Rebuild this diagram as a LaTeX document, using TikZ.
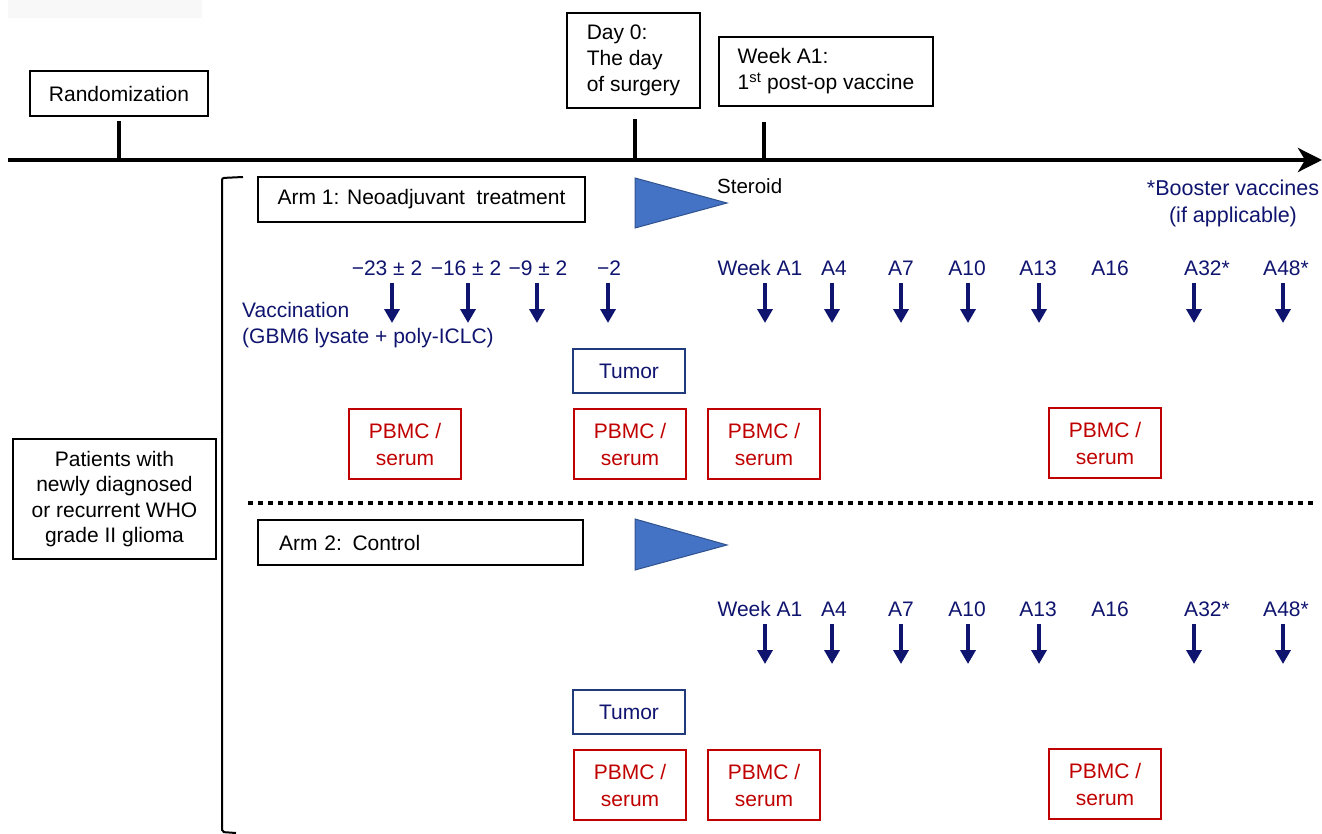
\documentclass[tikz,border=0pt]{standalone}
\usepackage{fontspec}
\setmainfont{Liberation Sans}
\usetikzlibrary{arrows.meta}
\definecolor{navytxt}{HTML}{0F146E}
\definecolor{tumorblue}{HTML}{1F3B7B}
\definecolor{pbmcred}{HTML}{C00000}
\definecolor{trifill}{HTML}{4472C4}
\definecolor{triedge}{HTML}{2F528F}
\definecolor{faint}{HTML}{F8F8F8}
\tikzset{
  blackbox/.style={draw=black, line width=2pt, inner sep=0pt, align=center, font=\fontsize{21}{26}\selectfont},
  tumorbox/.style={draw=tumorblue, line width=2.5pt, inner sep=0pt, minimum width=112pt, minimum height=44pt, text=navytxt, font=\fontsize{21}{26}\selectfont},
  pbmcbox/.style={draw=pbmcred, line width=2.5pt, inner sep=0pt, minimum width=112pt, minimum height=70pt, text=pbmcred, align=center, font=\fontsize{21}{27}\selectfont},
  lab/.style={text=navytxt, inner sep=0pt, font=\fontsize{21}{26}\selectfont},
  varrow/.style={draw=navytxt, line width=3.8pt, -{Triangle[length=14pt,width=15pt]}},
  tick/.style={line width=4pt},
  steroid/.style={fill=trifill, draw=triedge, line width=1pt},
}
\begin{document}
\begin{tikzpicture}[x=1pt,y=-1pt]
\useasboundingbox (0,0) rectangle (1322,834);
\fill[faint] (8,0) rectangle (202,18);

% timeline
\coordinate (tlstart) at (8,160);
\coordinate (tlend) at (1322,160);
\draw[line width=4.5pt, -{Stealth[length=24pt,width=24pt,inset=7pt]}] (tlstart) -- (tlend);

% top boxes
\node[blackbox, minimum width=178pt, minimum height=45pt] (rand) at (119,93.5) {Randomization};
\node[blackbox, minimum width=133pt, minimum height=95pt, align=left] (day0) at (633.5,60.5) {Day 0:\\The day\\of surgery};
\node[blackbox, minimum width=214pt, minimum height=69pt, align=left] (weekA1) at (826,71.5) {Week A1:\\1\textsuperscript{st} post-op vaccine};

\draw[tick] ([yshift=-4pt]rand.south) -- (rand.south |- tlstart);
\draw[tick] ([xshift=1.5pt,yshift=-10pt]day0.south) -- ([xshift=1.5pt]day0.south |- tlstart);
\draw[tick] ([xshift=-62pt,yshift=-15pt]weekA1.south) -- ([xshift=-62pt]weekA1.south |- tlstart);

% bracket
\draw[line width=2pt, rounded corners=2pt] (243,177) -- (222,178) -- (222,832) -- (236,833);

% patients
\node[blackbox, minimum width=203pt, minimum height=120pt, font=\fontsize{21}{25.5}\selectfont] (pat) at (114.5,499) {Patients with\\newly diagnosed\\or recurrent WHO\\grade II glioma};

% ===== Arm 1 =====
\node[blackbox, minimum width=327pt, minimum height=45pt] (arm1) at (421.5,199.5) {Arm 1: Neoadjuvant\ \ treatment};
\coordinate (tri1a) at (635,178);
\coordinate (tri1b) at (727,203);
\coordinate (tri1c) at (635,228);
\draw[steroid] (tri1a) -- (tri1b) -- (tri1c) -- cycle;
\node[inner sep=0pt, font=\fontsize{20.5}{24}\selectfont, anchor=west] (ster) at (717,186) {Steroid};
\node[lab, align=center, font=\fontsize{21.5}{27}\selectfont] (boost) at (1233,203.5) {*Booster vaccines\\(if applicable)};

\node[lab] (n23) at (387,268) {−23 ± 2};
\node[lab] (n16) at (466,268) {−16 ± 2};
\node[lab] (n9) at (538,268) {−9 ± 2};
\node[lab] (n2) at (609,268) {−2};
\node[lab, anchor=west, align=left] (vacc) at (242,325) {Vaccination\\(GBM6 lysate + poly-ICLC)};

\foreach \x/\n in {392/a,468/b,537/c,608/d}{
  \coordinate (v1\n s) at (\x,283);
  \coordinate (v1\n e) at (\x,323);
  \draw[varrow] (v1\n s) -- (v1\n e);
}

\foreach \arm/\ly in {1/268,2/609}{
  \node[lab] (wkA1\arm) at (760,\ly) {Week A1};
  \node[lab] (a4\arm) at (834,\ly) {A4};
  \node[lab] (a7\arm) at (901,\ly) {A7};
  \node[lab] (a10\arm) at (967,\ly) {A10};
  \node[lab] (a13\arm) at (1038,\ly) {A13};
  \node[lab] (a16\arm) at (1110,\ly) {A16};
  \node[lab] (a32\arm) at (1207,\ly) {A32*};
  \node[lab] (a48\arm) at (1286,\ly) {A48*};
}
\foreach \arm/\ys in {1/283,2/624}{
  \foreach \x/\n in {765/a,832/b,901/c,968/d,1039/e,1194/f,1283/g}{
    \coordinate (w\arm\n s) at (\x,\ys);
    \coordinate (w\arm\n e) at (\x,\ys+40);
    \draw[varrow] (w\arm\n s) -- (w\arm\n e);
  }
}

\node[tumorbox] (tum1) at (629,371) {Tumor};
\node[pbmcbox] (p1a) at (405,444) {PBMC /\\serum};
\node[pbmcbox] (p1b) at (630,444) {PBMC /\\serum};
\node[pbmcbox] (p1c) at (764,444) {PBMC /\\serum};
\node[pbmcbox] (p1d) at (1105,443) {PBMC /\\serum};

% divider
\coordinate (divl) at (248,503);
\coordinate (divr) at (1313,503);
\draw[line width=4.5pt, dash pattern=on 4.5pt off 5.5pt] (divl) -- (divr);

% ===== Arm 2 =====
\node[blackbox, minimum height=45pt, text width=283pt, inner xsep=21pt, align=left] (arm2) at (420.5,542.5) {Arm 2: Control};
\coordinate (tri2a) at (635,519);
\coordinate (tri2b) at (727,545);
\coordinate (tri2c) at (635,570);
\draw[steroid] (tri2a) -- (tri2b) -- (tri2c) -- cycle;

\node[tumorbox] (tum2) at (629,712) {Tumor};
\node[pbmcbox] (p2b) at (630,785) {PBMC /\\serum};
\node[pbmcbox] (p2c) at (764,785) {PBMC /\\serum};
\node[pbmcbox] (p2d) at (1105,784) {PBMC /\\serum};
\end{tikzpicture}
\end{document}
